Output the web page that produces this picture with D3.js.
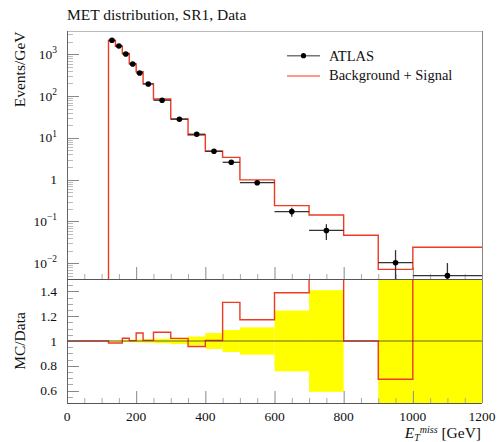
<!DOCTYPE html>
<html><head><meta charset="utf-8">
<script src="https://cdn.jsdelivr.net/npm/d3@7"></script>
<style>
body{margin:0;background:#fff}
svg{display:block}
text{font-family:"Liberation Serif","Times New Roman",serif;fill:#111}
</style>
</head><body>
<svg id="c" width="500" height="442"></svg>
<script>
// ---- data ----
const binEdges = [120,140,160,180,200,220,250,300,350,400,450,500,600,700,800,900,1000,1200];
const dataVals = [2160,1580,1017,586,357,195,79.5,27.9,12.2,4.78,2.6,0.845,0.172,0.061,null,0.0103,0.00505];
const dataRelErr = [0.005,0.006,0.008,0.01,0.012,0.014,0.018,0.025,0.036,0.064,0.089,0.11,0.245,0.41,null,1.0,1.0];
const mcVals = [2125,1555,1039,588,380,196,85.1,28.5,11.66,4.8,3.41,0.99,0.239,0.143,0.0468,0.00712,0.0241];
const xTickLabels = [0,200,400,600,800,1000,1200];
const yTopTickExp = [-2,-1,0,1,2,3];
const yRatioTickLabels = [0.6,0.8,1,1.2,1.4];

const L=67,R=482,T1=31,B1=279,T2=279,B2=403;
const x = d3.scaleLinear().domain([0,1200]).range([L,R]);
const yT = d3.scaleLog().domain([0.0042,3600]).range([B1,T1]);
const yR = d3.scaleLinear().domain([0.5,1.5]).range([B2,T2]);
const svg = d3.select('#c');
const RED = "#ee3a22";

const defs = svg.append('defs');
defs.append('clipPath').attr('id','cpT').append('rect').attr('x',L).attr('y',T1).attr('width',R-L).attr('height',B1-T1);
defs.append('clipPath').attr('id','cpR').append('rect').attr('x',L).attr('y',T2).attr('width',R-L).attr('height',B2-T2);

const bins = dataVals.map((v,i)=>({lo:binEdges[i],hi:binEdges[i+1],d:v,e:dataRelErr[i],mc:mcVals[i],
  ratio: v==null ? 1 : mcVals[i]/v}));

// ---- ratio panel: yellow band ----
const gR = svg.append('g').attr('clip-path','url(#cpR)');
gR.selectAll('rect.band').data(bins.filter(b=>b.d!=null)).join('rect')
  .attr('x',b=>x(b.lo)).attr('width',b=>x(b.hi)-x(b.lo))
  .attr('y',b=>yR(Math.min(1.6,1+b.e))).attr('height',b=>yR(Math.max(0.4,1-b.e))-yR(Math.min(1.6,1+b.e)))
  .attr('fill','#ffff00');

// ---- ticks ----
const gAx = svg.append('g');
function vline(px,y1,y2,col,w){gAx.append('line').attr('x1',px).attr('x2',px).attr('y1',y1).attr('y2',y2).attr('stroke',col).attr('stroke-width',w||1);}
function hline(py,x1,x2,col,w){gAx.append('line').attr('x1',x1).attr('x2',x2).attr('y1',py).attr('y2',py).attr('stroke',col).attr('stroke-width',w||1);}
// x ticks
d3.range(0,1201,50).forEach(v=>{
  const major = v%200===0;
  const len = major?12:5;
  const col = major?"#888":"#aaa";
  vline(x(v)+0.5,B1,B1-len,col);
  vline(x(v)+0.5,B2,B2-len,col);
});
// log y ticks top
for(let dcd=-3; dcd<=3; dcd++){
  for(let k=1;k<=9;k++){
    const v=k*Math.pow(10,dcd);
    if(v<yT.domain()[0]||v>yT.domain()[1]) continue;
    const py=Math.round(yT(v))+0.5;
    if(k===1) hline(py,L,L+12,"#888"); else hline(py,L,L+6,"#bbb");
  }
}
// ratio y ticks
d3.range(0.5,1.501,0.05).forEach(v=>{
  const major = Math.abs(Math.round(v*10)-v*10)<1e-6 && Math.round(v*10)%2===0;
  const py=Math.round(yR(v))+0.5;
  if(major) hline(py,L,L+12,"#888"); else hline(py,L,L+6,"#aaa");
});

// ---- ratio line ----
const ratioPts=[[0,1],[120,1]];
bins.forEach(b=>{ratioPts.push([b.lo,b.ratio]);ratioPts.push([b.hi,b.ratio]);});
const lineR=d3.line().x(d=>x(d[0])).y(d=>yR(Math.max(0.3,Math.min(1.7,d[1]))));
gR.append('path').attr('d',lineR(ratioPts)).attr('fill','none').attr('stroke',RED).attr('stroke-width',1.4);
// reference line at 1
svg.append('line').attr('x1',L).attr('x2',R).attr('y1',yR(1)).attr('y2',yR(1)).attr('stroke','#333').attr('stroke-opacity',0.75).attr('stroke-width',1);

// ---- top panel ----
const gT = svg.append('g').attr('clip-path','url(#cpT)');
const mcPts=[[120,0.002]];
bins.forEach(b=>{mcPts.push([b.lo,b.mc]);mcPts.push([b.hi,b.mc]);});
const lineT=d3.line().x(d=>x(d[0])).y(d=>yT(d[1]));
gT.append('path').attr('d',lineT(mcPts)).attr('fill','none').attr('stroke',RED).attr('stroke-width',1.4);

const db = bins.filter(b=>b.d!=null);
gT.selectAll('line.hx').data(db).join('line')
  .attr('x1',b=>x(b.lo)).attr('x2',b=>x(b.hi)).attr('y1',b=>yT(b.d)).attr('y2',b=>yT(b.d))
  .attr('stroke','#333').attr('stroke-width',1.3);
gT.selectAll('line.vy').data(db).join('line')
  .attr('x1',b=>x((b.lo+b.hi)/2)).attr('x2',b=>x((b.lo+b.hi)/2))
  .attr('y1',b=>yT(b.d*(1+b.e))).attr('y2',b=>yT(Math.max(0.001,b.d*(1-b.e))))
  .attr('stroke','#333').attr('stroke-width',1.3);
gT.selectAll('circle').data(db).join('circle')
  .attr('cx',b=>x((b.lo+b.hi)/2)).attr('cy',b=>yT(b.d)).attr('r',2.8).attr('fill','#000');

// ---- frame ----
hline(T1+0.5,L,R,"#bbb");
vline(R+0.5,T1,B2,"#888");
vline(L+0.5,T1,B2,"#666");
hline(B1+0.5,L,R,"#555");
hline(B2+0.5,L,R,"#555");

// ---- labels ----
const fsT=13.5;
yTopTickExp.forEach(e=>{
  const t=svg.append('text').attr('x',57).attr('y',yT(Math.pow(10,e))+4.5).attr('text-anchor','end').attr('font-size',fsT);
  if(e===0){t.text('1');}
  else{
    t.append('tspan').text('10');
    t.append('tspan').attr('dy',-5.5).attr('font-size',9.5).text(e<0?'\u2212'+(-e):String(e));
  }
});
yRatioTickLabels.forEach(v=>{
  svg.append('text').attr('x',57).attr('y',yR(v)+4.5).attr('text-anchor','end').attr('font-size',fsT).text(String(v));
});
xTickLabels.forEach(v=>{
  svg.append('text').attr('x',x(v)).attr('y',421).attr('text-anchor','middle').attr('font-size',fsT).text(String(v));
});

svg.append('text').attr('x',67).attr('y',19.5).attr('font-size',15.5).text('MET distribution, SR1, Data');
svg.append('text').attr('transform','translate(25,31.5) rotate(-90)').attr('text-anchor','end').attr('font-size',15.5).text('Events/GeV');
svg.append('text').attr('transform','translate(25,341) rotate(-90)').attr('text-anchor','middle').attr('font-size',15.5).text('MC/Data');

// x title: E_T^miss [GeV] as one text element
const xt=svg.append('text').attr('x',481).attr('y',437.5).attr('text-anchor','end').attr('font-size',15.5);
xt.append('tspan').attr('font-style','italic').text('E');
xt.append('tspan').attr('font-style','italic').attr('font-size',10).attr('dy',3.5).text('T');
xt.append('tspan').attr('font-style','italic').attr('font-size',10).attr('dy',-8.5).text('miss');
xt.append('tspan').attr('dy',5).text('\u00a0[GeV]');

// legend
svg.append('line').attr('x1',287).attr('x2',320).attr('y1',55.7).attr('y2',55.7).attr('stroke','#777').attr('stroke-width',1.5);
svg.append('circle').attr('cx',303.5).attr('cy',55.7).attr('r',2.6).attr('fill','#000');
svg.append('text').attr('x',329).attr('y',60.5).attr('font-size',14.5).text('ATLAS');
svg.append('line').attr('x1',287).attr('x2',320).attr('y1',76).attr('y2',76).attr('stroke',RED).attr('stroke-width',1.2);
svg.append('text').attr('x',329).attr('y',80).attr('font-size',14.5).text('Background + Signal');
</script>
</body></html>
